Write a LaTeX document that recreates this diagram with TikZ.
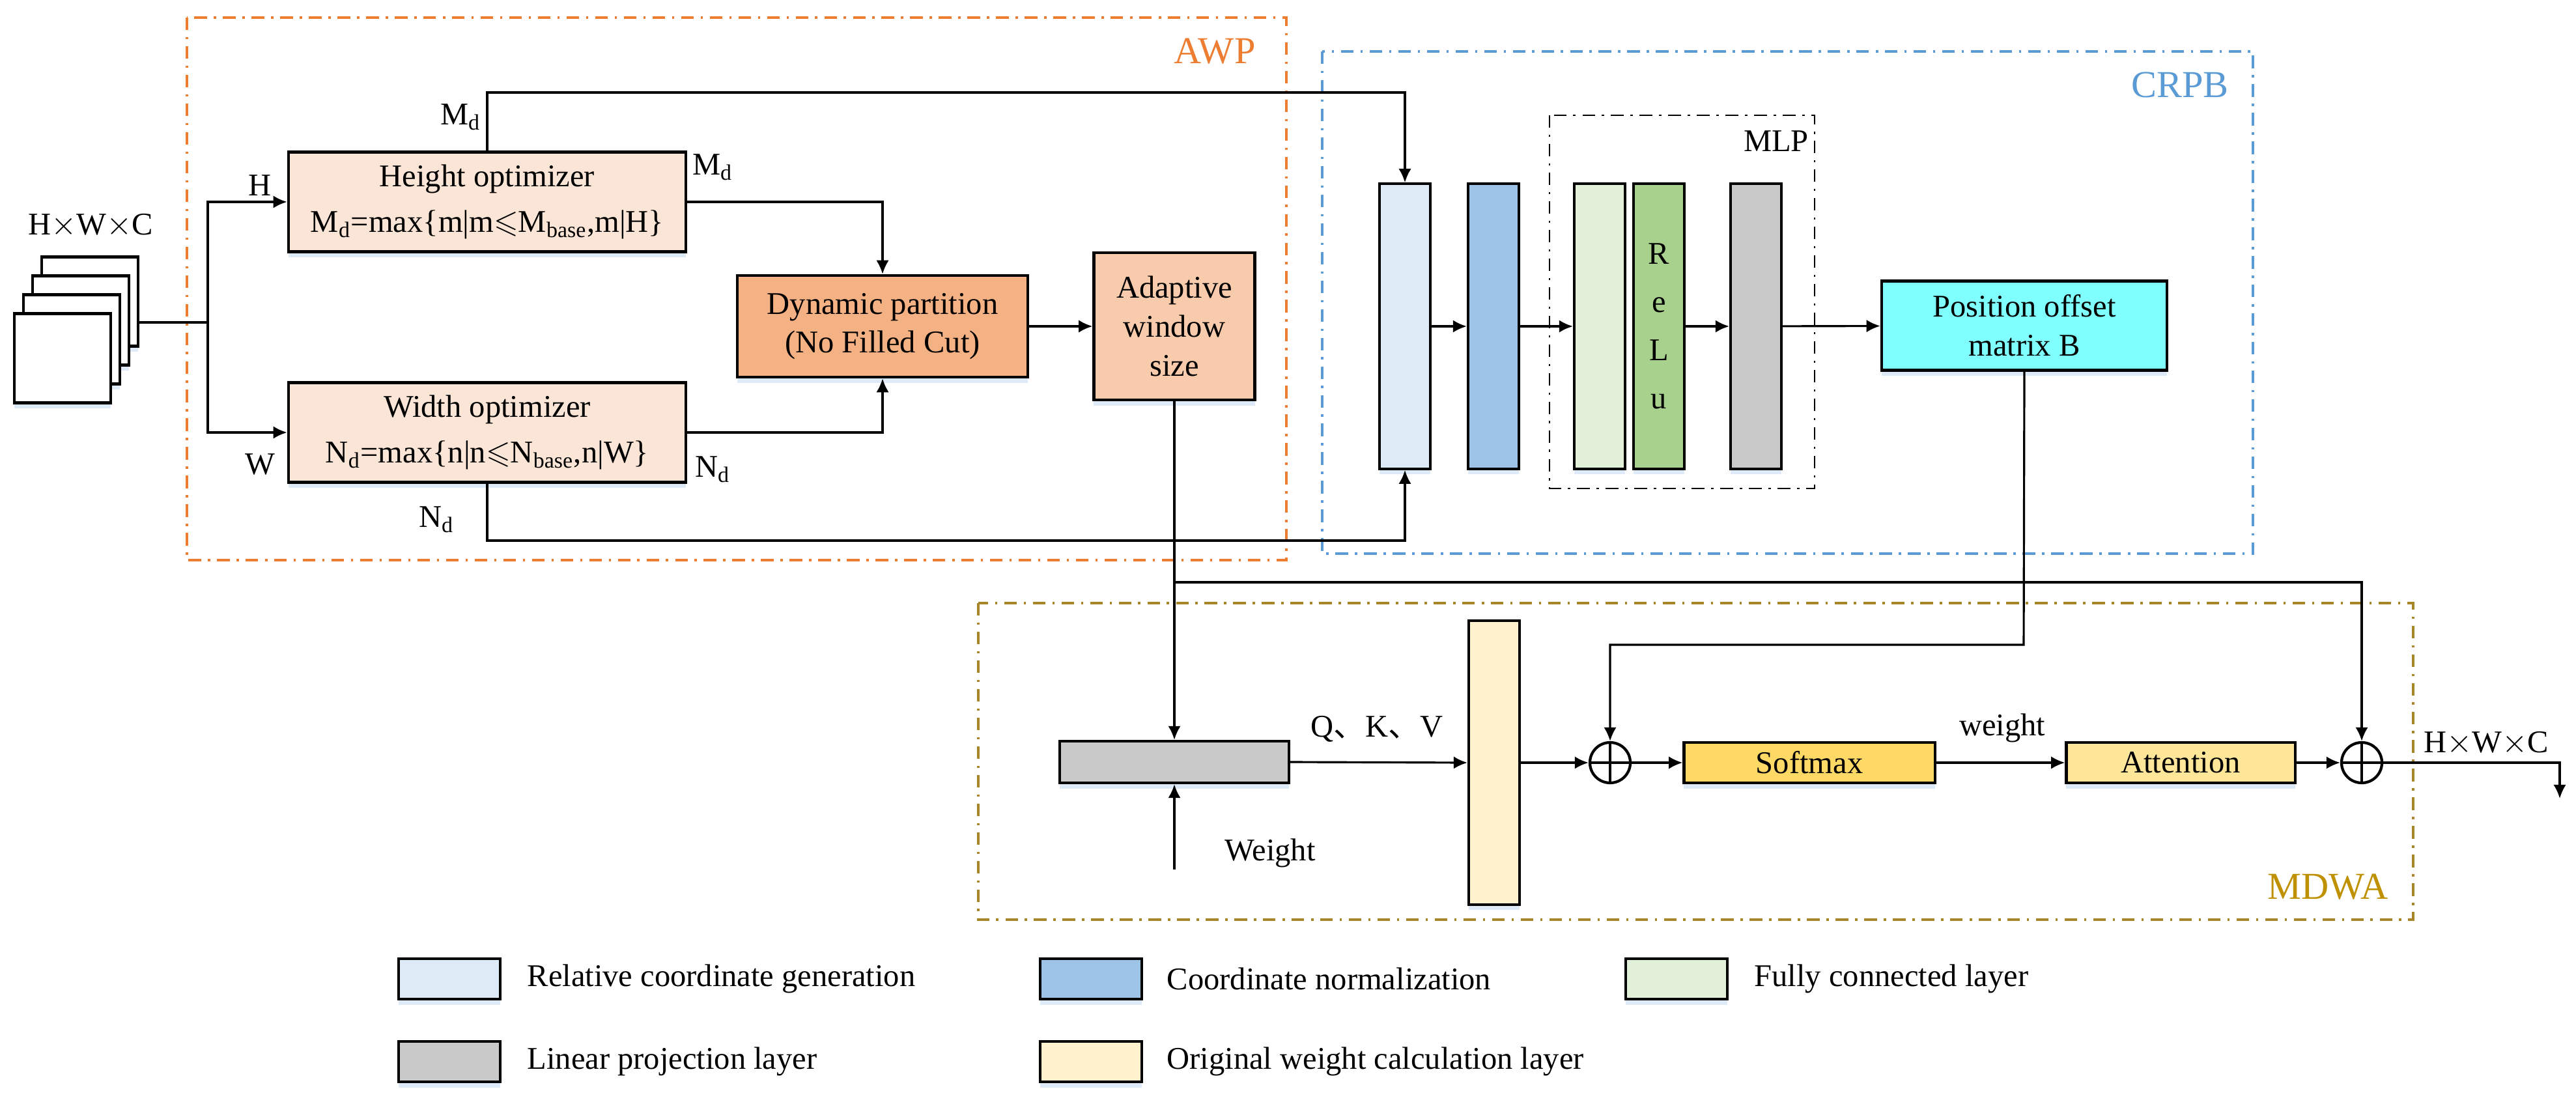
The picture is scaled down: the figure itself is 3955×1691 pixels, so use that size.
\documentclass[tikz,border=0pt]{standalone}
\usepackage{amssymb}
\usepackage{fontspec}
\setmainfont{Liberation Serif}
\newfontfamily\cjk{Noto Sans CJK SC}
\usetikzlibrary{arrows.meta}
\usetikzlibrary{shadows}

\definecolor{awpcol}{RGB}{237,125,49}
\definecolor{crpbcol}{RGB}{91,155,213}
\definecolor{mdwaline}{RGB}{166,134,40}
\definecolor{mdwacol}{RGB}{191,144,0}
\definecolor{optfill}{RGB}{251,229,214}
\definecolor{dynfill}{RGB}{244,177,131}
\definecolor{adapfill}{RGB}{248,203,173}
\definecolor{rcgfill}{RGB}{222,235,247}
\definecolor{cnfill}{RGB}{157,195,230}
\definecolor{fcfill}{RGB}{226,240,217}
\definecolor{relufill}{RGB}{169,209,142}
\definecolor{linfill}{RGB}{201,201,201}
\definecolor{posfill}{RGB}{128,255,255}
\definecolor{origfill}{RGB}{255,242,204}
\definecolor{softfill}{RGB}{255,217,102}
\definecolor{attfill}{RGB}{255,230,153}
\definecolor{shadowcol}{RGB}{214,229,245}

\tikzset{
  block/.style={draw, line width=1.2pt, inner sep=0pt, align=center,
    drop shadow={shadow xshift=0pt, shadow yshift=-2.5pt, fill=shadowcol, opacity=0.8}},
  layerbar/.style={block, minimum width=0.78cm, minimum height=4.37cm},
  legendbox/.style={block, minimum width=1.56cm, minimum height=0.62cm},
  legendtext/.style={anchor=west, inner sep=0pt},
  wire/.style={line width=0.9pt},
  arrowline/.style={wire, -{Latex[length=6pt,width=5.5pt]}},
  groupframe/.style={line width=0.9pt, dash pattern=on 5.5pt off 3pt on 1pt off 3pt},
  grouplabel/.style={font=\fontsize{16.6}{20}\selectfont},
  oplus/.style={circle, draw, line width=1.2pt, minimum size=0.62cm, inner sep=0pt,
    path picture={\draw[line width=1.2pt]
      (path picture bounding box.north) -- (path picture bounding box.south)
      (path picture bounding box.west) -- (path picture bounding box.east);}},
}

\begin{document}
\begin{tikzpicture}[x=0.01cm, y=-0.01cm, font=\fontsize{13.8}{17}\selectfont]
        \useasboundingbox (0,0) rectangle (3955,1691);
        % Group frames
        \draw[groupframe, awpcol] (287,27) rectangle (1975,860);
        \node[grouplabel, text=awpcol] (awplabel) at (1865,79) {AWP};
        \draw[groupframe, crpbcol] (2030,79) rectangle (3459,850);
        \node[grouplabel, text=crpbcol] (crpblabel) at (3347,130) {CRPB};
        \draw[groupframe, mdwaline] (1502,926) rectangle (3705,1412);
        \node[grouplabel, text=mdwacol] (mdwalabel) at (3574,1362) {MDWA};
        \draw[groupframe, line width=0.8pt] (2379,177) rectangle (2786,750);
        \node (mlplabel) at (2727,217) {MLP};
        % Input feature maps
        \node[block, fill=white, minimum width=1.48cm, minimum height=1.37cm] (card1) at (138,463) {};
        \node[block, fill=white, minimum width=1.48cm, minimum height=1.37cm] (card2) at (124,492) {};
        \node[block, fill=white, minimum width=1.48cm, minimum height=1.37cm] (card3) at (110,521) {};
        \node[block, fill=white, minimum width=1.48cm, minimum height=1.37cm] (card4) at (96,550) {};
        \node (inlabel) at (139,347) {H$\times$W$\times$C};
        % AWP
        \node[block, fill=optfill, minimum width=6.1cm, minimum height=1.53cm] (hopt) at (748,310)
          {Height optimizer\\[3pt] M\textsubscript{d}=max\{m|m$\leqslant$M\textsubscript{base},m|H\}};
        \node[block, fill=optfill, minimum width=6.1cm, minimum height=1.53cm] (wopt) at (748,664)
          {Width optimizer\\[3pt] N\textsubscript{d}=max\{n|n$\leqslant$N\textsubscript{base},n|W\}};
        \node[block, fill=dynfill, minimum width=4.46cm, minimum height=1.56cm] (dyn) at (1355,501)
          {Dynamic partition\\(No Filled Cut)};
        \node[block, fill=adapfill, minimum width=2.47cm, minimum height=2.26cm] (adap) at (1803,501)
          {Adaptive\\window\\size};
        % CRPB
        \node[layerbar, fill=rcgfill] (rcg) at (2157,501) {};
        \node[layerbar, fill=cnfill] (cn) at (2293,501) {};
        \node[layerbar, fill=fcfill] (fc) at (2456,501) {};
        \node[layerbar, fill=relufill] (relu) at (2547,501) {R\\[4pt]e\\[4pt]L\\[4pt]u};
        \node[layerbar, fill=linfill] (mlpout) at (2696,501) {};
        \node[block, fill=posfill, minimum width=4.38cm, minimum height=1.37cm] (pos) at (3108,500)
          {Position offset\\matrix B};
        % MDWA
        \node[block, fill=linfill, minimum width=3.52cm, minimum height=0.64cm] (proj) at (1803,1170) {};
        \node[block, fill=origfill, minimum width=0.78cm, minimum height=4.35cm] (orig) at (2294,1171) {};
        \node[oplus] (plus1) at (2472,1171) {};
        \node[block, fill=softfill, minimum width=3.85cm, minimum height=0.62cm] (soft) at (2778,1171) {Softmax};
        \node[block, fill=attfill, minimum width=3.51cm, minimum height=0.62cm] (att) at (3348,1171) {Attention};
        \node[oplus] (plus2) at (3626,1171) {};
        % Connector corners
        \coordinate (split) at (319,495);
        \coordinate (mtop) at (748,142);
        \coordinate (nbot) at (748,830);
        \coordinate (br) at (1803,894);
        \coordinate (wt) at (1803,1335);
        \coordinate (bdrop) at (3107,990);
        \coordinate (out) at (3930,1226);
        % Connectors
        \draw[wire] (card1.east |- split) -- (split);
        \draw[arrowline] (split) |- (hopt.west);
        \draw[arrowline] (split) |- (wopt.west);
        \node (hlabel) at (399,285) {H};
        \node (wlabel) at (399,713) {W};
        \draw[arrowline] (hopt.north) -- (mtop) -| (rcg.north);
        \node (mtoplabel) at (707,180) {M\textsubscript{d}};
        \draw[arrowline] (wopt.south) -- (nbot) -| (rcg.south);
        \node (nbotlabel) at (670,798) {N\textsubscript{d}};
        \draw[arrowline] (hopt.east) -| (dyn.north);
        \node (mlabel) at (1094,257) {M\textsubscript{d}};
        \draw[arrowline] (wopt.east) -| (dyn.south);
        \node (nlabel) at (1094,721) {N\textsubscript{d}};
        \draw[arrowline] (dyn) -- (adap);
        \draw[arrowline] (adap.south) -- (proj.north);
        \draw[arrowline] (br) -| (plus2.north);
        \draw[arrowline] (wt) -- (proj.south);
        \node (wtlabel) at (1950,1310) {Weight};
        \draw[arrowline] (rcg) -- (cn);
        \draw[arrowline] (cn) -- (fc);
        \draw[arrowline] (relu) -- (mlpout);
        \draw[arrowline] (mlpout) -- (pos);
        \draw[arrowline] (proj.east) -- (orig.west);
        \node (qkvlabel) at (2114,1119) {Q{\cjk 、}K{\cjk 、}V};
        \draw[arrowline] (orig) -- (plus1);
        \draw[arrowline] (plus1) -- (soft);
        \draw[arrowline] (soft) -- (att);
        \node (weightlabel) at (3074,1118) {weight};
        \draw[arrowline] (att) -- (plus2);
        \draw[arrowline] (pos.south) -- (bdrop) -| (plus1.north);
        \draw[arrowline] (plus2.east) -| (out);
        \node (outlabel) at (3817,1142) {H$\times$W$\times$C};
        % Legend
        \node[legendbox, fill=rcgfill] (leg1) at (690,1503) {};
        \node[legendtext] (legtext1) at (809,1503) {Relative coordinate generation};
        \node[legendbox, fill=cnfill] (leg2) at (1675,1503) {};
        \node[legendtext] (legtext2) at (1791,1503) {Coordinate normalization};
        \node[legendbox, fill=fcfill] (leg3) at (2574,1503) {};
        \node[legendtext] (legtext3) at (2693,1503) {Fully connected layer};
        \node[legendbox, fill=linfill] (leg4) at (690,1630) {};
        \node[legendtext] (legtext4) at (809,1630) {Linear projection layer};
        \node[legendbox, fill=origfill] (leg5) at (1675,1630) {};
        \node[legendtext] (legtext5) at (1791,1630) {Original weight calculation layer};
      \end{tikzpicture}
\end{document}
